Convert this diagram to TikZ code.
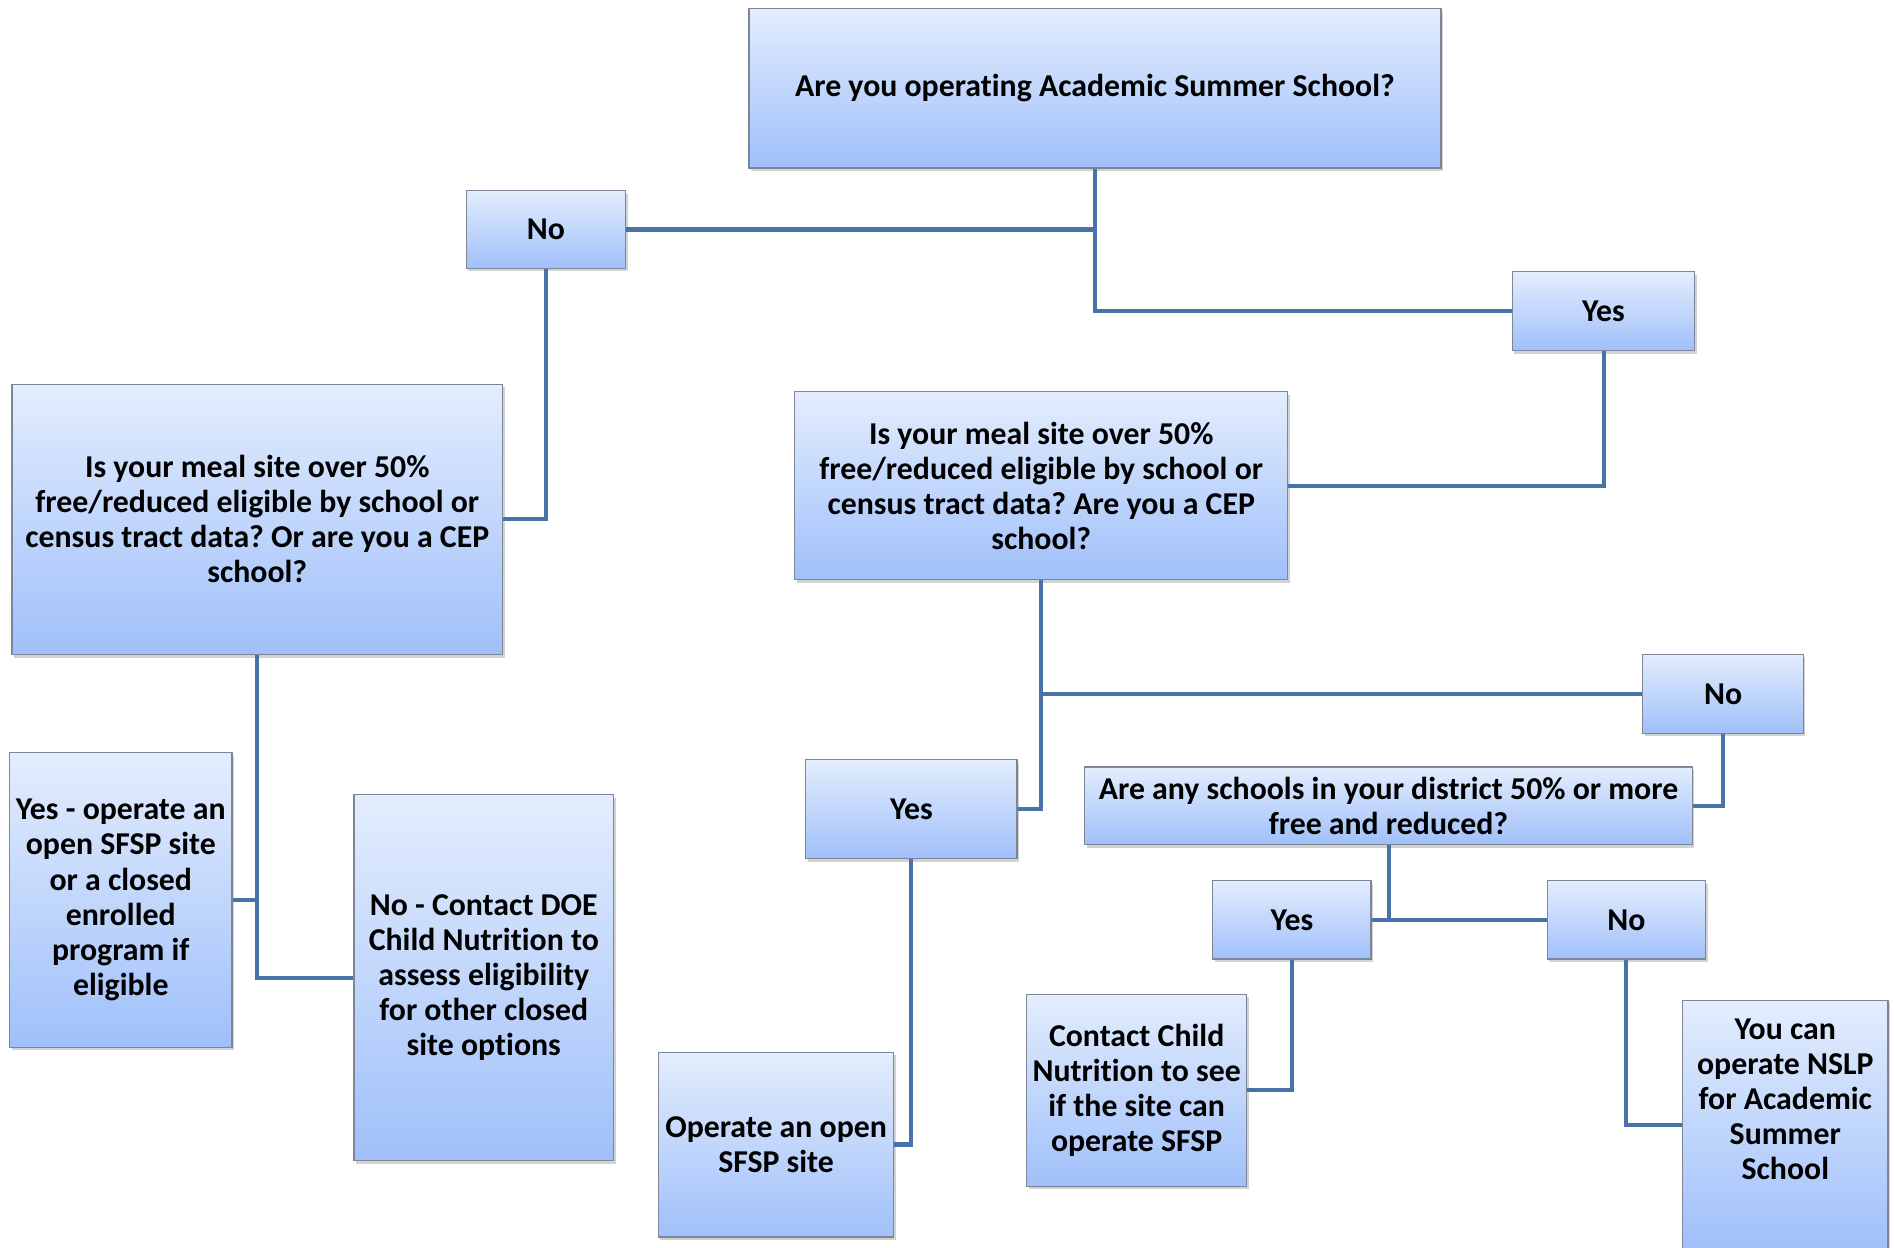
\documentclass[tikz,border=0pt]{standalone}
\usepackage{fontspec}
\setmainfont{Carlito}[Ligatures=NoCommon]
\usetikzlibrary{shadows}
\definecolor{boxtop}{HTML}{E3EDFD}
\definecolor{boxbot}{HTML}{A0C0FA}
\definecolor{boxline}{HTML}{7C8696}
\definecolor{linkblue}{HTML}{4872A8}
\frenchspacing
\begin{document}
\begin{tikzpicture}[x=0.6pt,y=-0.6pt,
  flowbox/.style={draw=boxline, line width=0.6pt, top color=boxtop, bottom color=boxbot,
    align=center, font=\fontsize{15.8pt}{17.4pt}\selectfont\bfseries, inner sep=2pt,
    drop shadow={shadow xshift=1pt, shadow yshift=-1.6pt, opacity=0.35}},
  sz/.style 2 args={minimum width=#1*0.6pt, minimum height=#2*0.6pt},
  wire/.style={draw=linkblue, line width=2pt}]
\useasboundingbox (0,0) rectangle (1568,1033);
\fill[white] (0,0) rectangle (1568,1033);

\node[flowbox, sz={573}{132}] (top) at (906.5,73) {Are you operating Academic Summer School?};
\node[flowbox, sz={132}{64}] (no1) at (452,190) {No};
\node[flowbox, sz={151}{65}] (yes1) at (1327.5,257.5) {Yes};
\node[flowbox, sz={406}{224}] (leftq) at (213,430) {Is your meal site over 50\%\\free/reduced eligible by school or\\census tract data? Or are you a CEP\\school?};
\node[flowbox, sz={408}{156}] (rightq) at (862,402) {Is your meal site over 50\%\\free/reduced eligible by school or\\census tract data? Are you a CEP\\school?};
\node[flowbox, sz={184}{244}] (yesl) at (100,745) {Yes - operate an\\open SFSP site\\or a closed\\enrolled\\program if\\eligible};
\node[flowbox, sz={215}{303}] (nol) at (400.5,809.5) {No - Contact DOE\\Child Nutrition to\\assess eligibility\\for other closed\\site options};
\node[flowbox, sz={175}{82}] (yes2) at (754.5,670) {Yes};
\node[flowbox, sz={133}{65}] (no2) at (1426.5,574.5) {No};
\node[flowbox, sz={503}{64}] (district) at (1149.5,667) {Are any schools in your district 50\% or more\\free and reduced?};
\node[flowbox, sz={195}{153}] (opensfsp) at (642.5,947.5) {Operate an open\\SFSP site};
\node[flowbox, sz={131}{65}] (yes3) at (1069.5,761.5) {Yes};
\node[flowbox, sz={131}{65}] (no3) at (1346.5,761.5) {No};
\node[flowbox, sz={182}{159}] (contact) at (941,902.5) {Contact Child\\Nutrition to see\\if the site can\\operate SFSP};
\node[flowbox, sz={170}{206}] (nslp) at (1478,931) {You can\\operate NSLP\\for Academic\\Summer\\School\rule[-25pt]{0pt}{0pt}};

\draw[wire] (top.south) |- (yes1.west);
\draw[wire] (no1.east) -| (top.south);
\draw[wire] (no1.south) |- (leftq.east);
\draw[wire] (yes1.south) |- (rightq.east);
\draw[wire] (leftq.south) |- (nol.west);
\draw[wire] (yesl.east) -| (leftq.south);
\draw[wire] (rightq.south) |- (yes2.east);
\draw[wire] (no2.west) -| (rightq.south);
\draw[wire] (no2.south) |- (district.east);
\draw[wire] (yes2.south) |- (opensfsp.east);
\draw[wire] (yes3.east) -| (district.south);
\draw[wire] (no3.west) -| (district.south);
\draw[wire] (yes3.south) |- (contact.east);
\draw[wire] (no3.south) |- (nslp.west);
\end{tikzpicture}
\end{document}
